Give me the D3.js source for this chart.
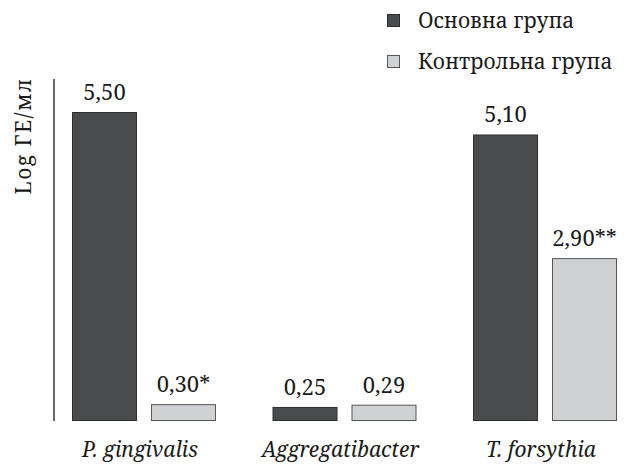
<!DOCTYPE html>
<html>
<head>
<meta charset="utf-8">
<script src="https://cdn.jsdelivr.net/npm/d3@7/dist/d3.min.js"></script>
<style>
  html, body { margin: 0; padding: 0; background: #fff; }
  svg { display: block; }
  text { font-family: "Noto Serif", "DejaVu Serif", serif; fill: #1a1a1a; }
</style>
</head>
<body>
<svg id="chart" width="638" height="464"></svg>
<script>
// Bacterial load, Log ГЕ/мл
const categories = ["P. gingivalis", "Aggregatibacter", "T. forsythia"];
const seriesNames = ["Основна група", "Контрольна група"];
const mainValues = [5.50, 0.25, 5.10];
const controlValues = [0.30, 0.29, 2.90];
const mainLabels = ["5,50", "0,25", "5,10"];
const controlLabels = ["0,30*", "0,29", "2,90**"];
const yTitle = "Log ГЕ/мл";

const fills = ["#4a4b4d", "#d0d1d3"];
const strokes = ["#2e2f30", "#555658"];

const svg = d3.select("#chart");
const margin = { left: 54, top: 79, bottom: 43 };
const H = 464;
const plotBottom = H - margin.bottom;

const x0 = d3.scaleBand()
  .domain(categories)
  .range([72, 617])
  .paddingInner(0.282)
  .paddingOuter(0);

const x1 = d3.scaleBand()
  .domain([0, 1])
  .range([0, x0.bandwidth()])
  .paddingInner(0.177);

const y = d3.scaleLinear()
  .domain([0, 5.5])
  .range([plotBottom, 112]);

// vertical axis line (no ticks)
svg.append("line")
  .attr("x1", margin.left).attr("x2", margin.left)
  .attr("y1", margin.top).attr("y2", plotBottom)
  .attr("stroke", "#1a1a1a").attr("stroke-width", 1.3);

// axis title
svg.append("text")
  .attr("transform", `translate(31,136) rotate(-90)`)
  .attr("text-anchor", "middle")
  .attr("font-size", 21)
  .attr("letter-spacing", 1.5)
  .text(yTitle);

const rows = categories.map((c, i) => ({
  cat: c,
  vals: [
    { s: 0, v: mainValues[i], label: mainLabels[i] },
    { s: 1, v: controlValues[i], label: controlLabels[i] }
  ]
}));

const groups = svg.selectAll("g.grp")
  .data(rows)
  .join("g")
  .attr("class", "grp")
  .attr("transform", d => `translate(${x0(d.cat)},0)`);

groups.selectAll("rect")
  .data(d => d.vals)
  .join("rect")
  .attr("x", d => x1(d.s) + 0.5)
  .attr("y", d => y(d.v) + 0.5)
  .attr("width", x1.bandwidth() - 1)
  .attr("height", d => plotBottom - y(d.v) - 1)
  .attr("fill", d => fills[d.s])
  .attr("stroke", d => strokes[d.s])
  .attr("stroke-width", 1);

groups.selectAll("text.val")
  .data(d => d.vals)
  .join("text")
  .attr("class", "val")
  .attr("x", d => x1(d.s) + x1.bandwidth() / 2)
  .attr("y", d => y(d.v) - 12)
  .attr("text-anchor", "middle")
  .attr("font-size", 22)
  .text(d => d.label);

// category labels
svg.selectAll("text.cat")
  .data(categories)
  .join("text")
  .attr("class", "cat")
  .attr("x", d => x0(d) + x0.bandwidth() / 2 - 4)
  .attr("y", 457)
  .attr("text-anchor", "middle")
  .attr("font-size", 21)
  .attr("font-style", "italic")
  .text(d => d);

// legend
const legend = svg.append("g").attr("transform", "translate(387,14)");
const li = legend.selectAll("g")
  .data(seriesNames)
  .join("g")
  .attr("transform", (d, i) => `translate(0,${i * 41})`);
li.append("rect")
  .attr("x", 0.5).attr("y", 0.5)
  .attr("width", 12).attr("height", 12)
  .attr("fill", (d, i) => fills[i])
  .attr("stroke", (d, i) => strokes[i]);
li.append("text")
  .attr("x", 31)
  .attr("y", 14)
  .attr("font-size", 21)
  .text(d => d);
</script>
</body>
</html>
